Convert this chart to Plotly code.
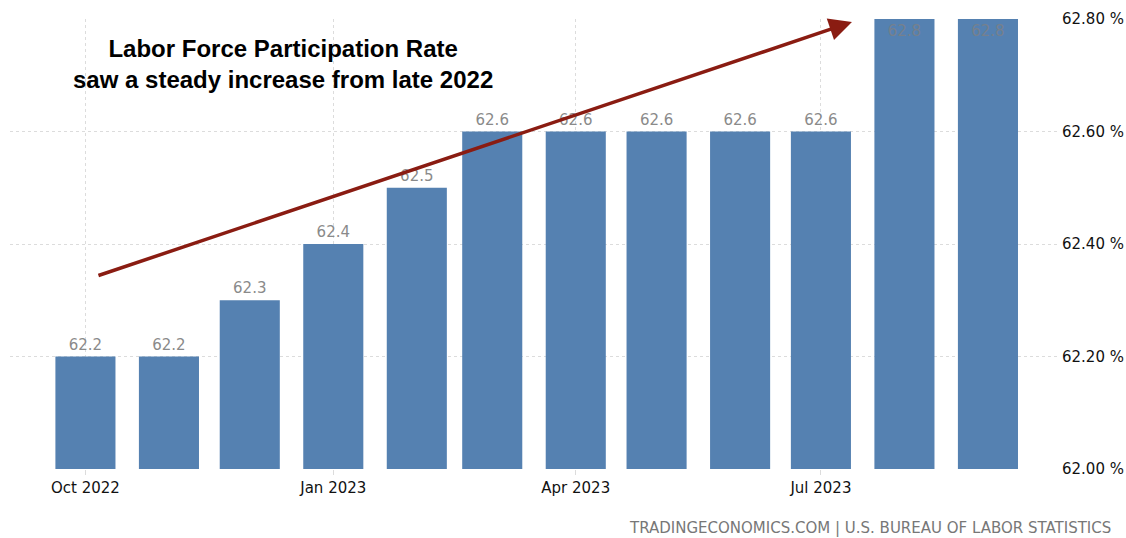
import plotly.graph_objects as go

months = ["2022-10-01", "2022-11-01", "2022-12-01", "2023-01-01", "2023-02-01", "2023-03-01",
          "2023-04-01", "2023-05-01", "2023-06-01", "2023-07-01", "2023-08-01", "2023-09-01"]
rates = [62.2, 62.2, 62.3, 62.4, 62.5, 62.6, 62.6, 62.6, 62.6, 62.6, 62.8, 62.8]
label_text = ["62.2", "62.2", "62.3", "62.4", "62.5", "62.6", "62.6", "62.6", "62.6", "62.6", "62.8", "62.8"]
y_ticks = [62.0, 62.2, 62.4, 62.6, 62.8]
y_tick_labels = ["62.00 %", "62.20 %", "62.40 %", "62.60 %", "62.80 %"]
title_lines = ["Labor Force Participation Rate", "saw a steady increase from late 2022"]
source_text = "TRADINGECONOMICS.COM | U.S. BUREAU OF LABOR STATISTICS"

DAY_MS = 86400000
positions = ["outside" if v < 62.8 else "inside" for v in rates]

fig = go.Figure()
fig.add_trace(go.Bar(
    x=months, y=rates, width=[22.3 * DAY_MS] * len(rates),
    marker=dict(color="#5581b1", line=dict(width=0)),
    text=label_text, textposition=positions, insidetextanchor="end",
    textfont=dict(family="DejaVu Sans", size=15, color="#8a8a8a"),
    insidetextfont=dict(family="DejaVu Sans", size=15, color="#76808d"),
    outsidetextfont=dict(family="DejaVu Sans", size=15, color="#8a8a8a"),
    constraintext="none", cliponaxis=False,
    hoverinfo="skip",
))

fig.update_layout(
    width=1126, height=538,
    margin=dict(l=10, r=68, t=19, b=69),
    paper_bgcolor="white", plot_bgcolor="white",
    showlegend=False,
    font=dict(family="DejaVu Sans", size=15, color="#111"),
    xaxis=dict(
        type="date", range=["2022-09-03", "2023-09-27"],
        tick0="2022-10-01", dtick="M3", tickformat="%b %Y",
        showgrid=True, gridcolor="#dcdcdc", griddash="dot", gridwidth=1,
        ticks="outside", ticklen=5, tickcolor="#dcdcdc",
        showline=False, zeroline=False, automargin=False,
        tickfont=dict(family="DejaVu Sans", size=15, color="#111"),
    ),
    yaxis=dict(
        side="right", range=[62.0, 62.8], tickvals=y_ticks, ticktext=y_tick_labels,
        showgrid=True, gridcolor="#dcdcdc", griddash="dot", gridwidth=1,
        zeroline=False, showline=False, ticks="", ticklabelstandoff=3,
        automargin=False,
        tickfont=dict(family="DejaVu Sans", size=15, color="#111"),
    ),
    annotations=[
        dict(xref="paper", yref="paper", x=0.8034, y=0.9933, ax=-755, ay=254,
             showarrow=True, arrowhead=2, arrowsize=1.3, arrowwidth=3.5,
             arrowcolor="#8a1c12", text=""),
        dict(xref="paper", yref="paper", x=0.2605, y=0.90, xanchor="center", yanchor="middle",
             text="<br>".join("<b>" + s + "</b>" for s in title_lines),
             showarrow=False, align="center",
             font=dict(family="Liberation Sans", size=24, color="#000")),
        dict(xref="paper", yref="paper", x=1.0525, y=-0.1311, xanchor="right", yanchor="middle",
             text=source_text, showarrow=False,
             font=dict(family="DejaVu Sans", size=15, color="#777")),
    ],
)

fig.write_html("out.html")
